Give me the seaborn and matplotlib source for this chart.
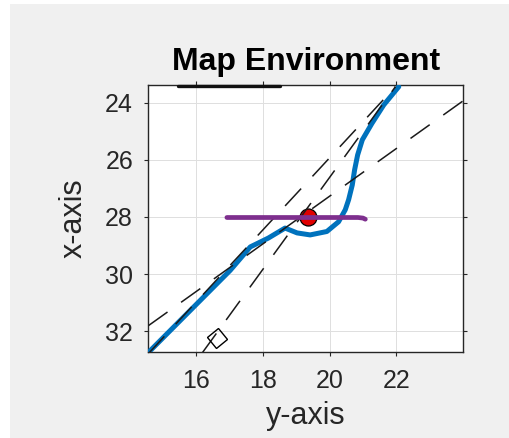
import matplotlib
matplotlib.use("Agg")
import matplotlib.pyplot as plt
import seaborn as sns
from matplotlib.markers import MarkerStyle
from matplotlib.transforms import Affine2D
from matplotlib.patches import Rectangle

# Horizontal axis holds the "y" coordinate, vertical axis the "x" coordinate.
path_y = [14.58, 17.03, 17.63, 18.17, 18.67, 19.03, 19.42, 19.92, 20.27,
          20.47, 20.57, 20.68, 20.75, 20.84, 20.98, 21.27, 21.62, 22.07]
path_x = [32.75, 29.87, 29.05, 28.74, 28.39, 28.56, 28.63, 28.51, 28.17,
          27.75, 27.40, 26.88, 26.35, 25.83, 25.30, 24.72, 24.08, 23.44]

# Straight boundary lines (dashed)
bound_a_y = [14.58, 24.00]
bound_a_x = [31.81, 23.93]
bound_b_y = [16.20, 21.97]
bound_b_x = [32.75, 23.44]
bound_c_y = [14.58, 21.97]
bound_c_x = [32.79, 23.44]

# Horizontal purple segment with a short hook at its end
seg_y = [16.93, 20.85, 21.00, 21.07]
seg_x = [28.02, 28.02, 28.04, 28.08]

# Black bar along the top edge
bar_y = [15.47, 18.52]
bar_x = [23.40, 23.40]

# Red target and start marker
target_y, target_x = [19.37], [27.99]
start_y, start_x = [16.63], [32.24]

x_ticks = [16, 18, 20, 22]
y_ticks = [24, 26, 28, 30, 32]

sns.set_theme(style="white")
plt.rcParams["font.family"] = ["Liberation Sans", "DejaVu Sans"]
plt.rcParams["lines.scale_dashes"] = False

fig = plt.figure(figsize=(5.10, 4.38), dpi=100, facecolor="white")
fig.patches.append(Rectangle((10 / 510, 0), 1, 1 - 4 / 438,
                             transform=fig.transFigure, facecolor="#f0f0f0",
                             edgecolor="none", zorder=-10))
ax = fig.add_axes([148.3 / 510, 1 - 352 / 438, 315 / 510, 267 / 438])
ax.set_facecolor("white")

edge = "#262626"
for spine in ax.spines.values():
    spine.set_visible(True)
    spine.set_color(edge)
    spine.set_linewidth(1.0)

ax.set_xlim(14.58, 24.0)
ax.set_ylim(32.73, 23.38)
ax.set_xticks(x_ticks)
ax.set_yticks(y_ticks)
ax.grid(True, color="#dfdfdf", linewidth=0.7)
ax.set_axisbelow(True)
ax.tick_params(axis="both", which="both", direction="out", length=3,
               width=0.8, color=edge, labelcolor=edge, labelsize=18,
               top=True, right=True, bottom=True, left=True,
               labeltop=False, labelright=False)
ax.tick_params(axis="x", pad=9)
ax.tick_params(axis="y", pad=8)

# Path
sns.lineplot(x=path_y, y=path_x, sort=False, estimator=None, ax=ax,
             color="#0072BD", linewidth=3.6, zorder=3)
ax.lines[-1].set_solid_capstyle("round")
ax.lines[-1].set_solid_joinstyle("round")

# Target
sns.scatterplot(x=target_y, y=target_x, ax=ax, s=150, color="#e00000",
                edgecolor="black", linewidth=0.9, zorder=4)

# Dashed boundaries
for by, bx in [(bound_a_y, bound_a_x), (bound_b_y, bound_b_x), (bound_c_y, bound_c_x)]:
    sns.lineplot(x=by, y=bx, sort=False, estimator=None, ax=ax,
                 color="#1a1a1a", linewidth=1.1, zorder=5)
    ax.lines[-1].set_dashes((17, 12))

# Purple segment
sns.lineplot(x=seg_y, y=seg_x, sort=False, estimator=None, ax=ax,
             color="#7E2F8E", linewidth=3.4, zorder=6)
ax.lines[-1].set_solid_capstyle("round")

# Top bar
sns.lineplot(x=bar_y, y=bar_x, sort=False, estimator=None, ax=ax,
             color="#111111", linewidth=2.4, zorder=7)
ax.lines[-1].set_clip_on(False)

# Start marker
ax.plot(start_y, start_x, linestyle="none",
        marker=MarkerStyle("s", transform=Affine2D().rotate_deg(40)),
        markersize=10.5, markerfacecolor="none", markeredgecolor="black",
        markeredgewidth=1.0, zorder=8)

ax.set_title("Map Environment", fontsize=23, fontweight="bold",
             color="black", pad=11)
ax.set_xlabel("y-axis", fontsize=22, color=edge, labelpad=6)
ax.set_ylabel("x-axis", fontsize=22, color=edge, labelpad=12)

fig.savefig("out.png", dpi=100, facecolor=fig.get_facecolor())
